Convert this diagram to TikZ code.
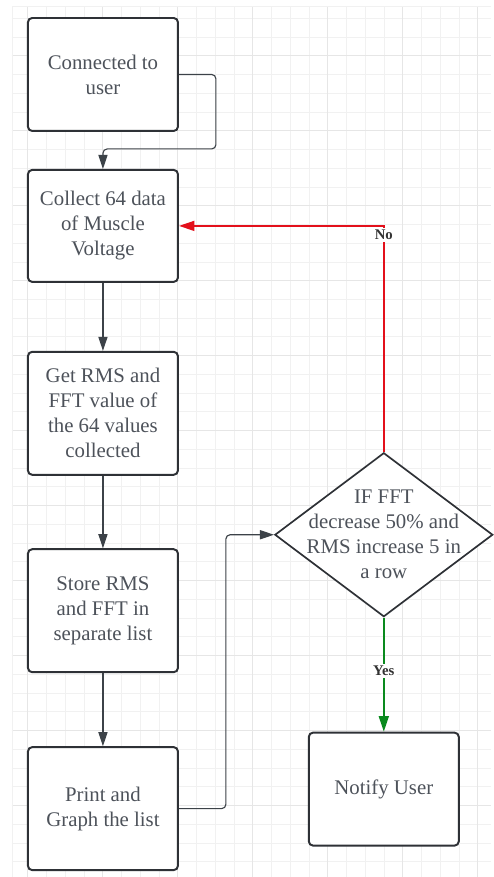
\documentclass[tikz,border=0pt]{standalone}
\usepackage{fontspec}
\setmainfont{Liberation Serif}
\usetikzlibrary{shapes.geometric,arrows.meta}
\definecolor{boxline}{HTML}{2E3136}
\definecolor{boxtext}{HTML}{4D525A}
\definecolor{wire}{HTML}{3C4248}
\definecolor{nored}{HTML}{E3101B}
\definecolor{yesgreen}{HTML}{0A8A1E}
\definecolor{gridminor}{HTML}{F1F1F1}
\definecolor{gridmajor}{HTML}{E6E6E6}
\begin{document}
\begin{tikzpicture}[x=0.025cm,y=-0.025cm,
	stepbox/.style={draw=boxline, line width=1.4pt, rounded corners=3pt, fill=white, text=boxtext,
		minimum width=3.75cm, align=center, inner sep=2pt, font=\fontsize{14.8}{17.8}\selectfont},
	decide/.style={diamond, draw=boxline, line width=1.2pt, fill=white, inner sep=0pt,
		minimum width=5.45cm, minimum height=4.1cm},
	decidetext/.style={text=boxtext, align=center, font=\fontsize{14.8}{17.8}\selectfont},
	flow/.style={draw=wire, line width=0.8pt, rounded corners=3pt, -{Triangle[length=10pt,width=6.5pt]}},
	noflow/.style={draw=nored, line width=1.4pt, -{Triangle[length=11pt,width=7pt]}},
	yesflow/.style={draw=yesgreen, line width=1.4pt, -{Triangle[length=11pt,width=7pt]}},
	tag/.style={fill=white, inner sep=1.5pt, text=black!80, font=\fontsize{10.5}{12}\selectfont\bfseries}]
	
	\fill[white] (0,0) rectangle (491,877);
	\foreach \i in {1,...,25} \draw[gridminor, line width=0.5pt] (9.1+18.75*\i,6) -- (9.1+18.75*\i,877);
	\foreach \j in {1,...,46} \draw[gridminor, line width=0.5pt] (12,-0.5+18.75*\j) -- (491,-0.5+18.75*\j);
	\foreach \i in {1,5,...,25} \draw[gridmajor, line width=0.6pt] (9.1+18.75*\i,6) -- (9.1+18.75*\i,877);
	\foreach \j in {3,7,...,43} \draw[gridmajor, line width=0.6pt] (12,-0.5+18.75*\j) -- (491,-0.5+18.75*\j);
	\draw[gridminor, line width=0.5pt] (12,877) -- (12,6) -- (491,6);
	
	\node[stepbox, minimum height=2.825cm] (connect) at (103,74.5) {Connected to\\user};
	\node[stepbox, minimum height=2.8cm] (collect) at (103,226) {Collect 64 data\\of Muscle\\Voltage};
	\node[stepbox, minimum height=3.075cm] (rmsfft) at (103,413.5) {Get RMS and\\FFT value of\\the 64 values\\collected};
	\node[stepbox, minimum height=3.075cm] (store) at (103,611) {Store RMS\\and FFT in\\separate list};
	\node[stepbox, minimum height=3.075cm] (graph) at (103,809) {Print and\\Graph the list};
	\node[decide] (check) at (384,535) {};
	\node[decidetext] (checktext) at (check.center) {IF FFT\\decrease 50\% and\\RMS increase 5 in\\a row};
	\node[stepbox, minimum height=2.825cm] (notify) at (384,789.5) {Notify User};
	
	\coordinate (connectturn) at (216,149);
	\coordinate (graphturn) at (226,535);
	
	\draw[flow] (connect.east) -| (connectturn) -| (collect.north);
	\draw[flow] (collect.south) -- (rmsfft.north);
	\draw[flow] (rmsfft.south) -- (store.north);
	\draw[flow] (store.south) -- (graph.north);
	\draw[flow] (graph.east) -| (graphturn) -- (check.west);
	
	\draw[noflow] (check.north) |- (collect.east) node[tag, pos=0.48] {No};
	\draw[yesflow] (check.south) -- (notify.north) node[tag, pos=0.47] {Yes};
	
\end{tikzpicture}
\end{document}
